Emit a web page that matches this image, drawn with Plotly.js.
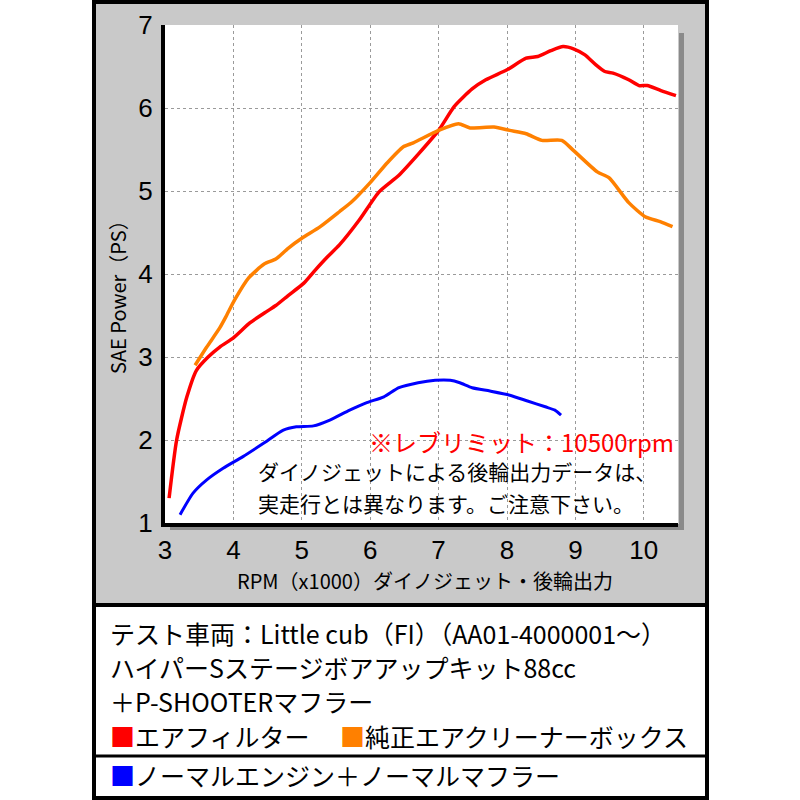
<!DOCTYPE html>
<html>
<head>
<meta charset="utf-8">
<script src="https://cdn.plot.ly/plotly-3.0.1.min.js"></script>
<style>
  html, body { margin: 0; padding: 0; background: #ffffff; }
  #grafico { width: 800px; height: 800px; }
</style>
</head>
<body>
<div id="grafico"></div>
<script>
// Datos: RPM (x1000) y potencia SAE (PS)
const rpmAirFilter = [3.06, 3.17, 3.32, 3.46, 3.63, 3.80, 4.00, 4.24, 4.49, 4.62, 4.80, 5.03, 5.20, 5.38, 5.55,
    5.84, 6.13, 6.42, 6.71, 7.00, 7.23, 7.49, 7.69, 8.00, 8.28, 8.45, 8.64, 8.82, 8.98, 9.14,
    9.30, 9.43, 9.55, 9.78, 9.93, 10.05, 10.25, 10.47];
const psAirFilter = [1.30, 2.00, 2.52, 2.84, 3.00, 3.12, 3.23, 3.41, 3.55, 3.62, 3.74, 3.89, 4.05, 4.21, 4.35,
    4.65, 4.99, 5.19, 5.45, 5.73, 6.02, 6.23, 6.34, 6.46, 6.60, 6.62, 6.69, 6.74, 6.71, 6.64,
    6.52, 6.44, 6.42, 6.34, 6.27, 6.27, 6.21, 6.15];

const rpmStockBox = [3.44, 3.61, 3.80, 3.90, 4.02, 4.22, 4.45, 4.62, 4.80, 5.00, 5.27, 5.55, 5.73, 6.01, 6.25,
    6.48, 6.63, 7.00, 7.29, 7.46, 7.81, 8.04, 8.28, 8.51, 8.80, 8.97, 9.32, 9.49, 9.78, 10.02,
    10.24, 10.42];
const psStockBox = [2.90, 3.12, 3.35, 3.50, 3.69, 3.95, 4.12, 4.18, 4.31, 4.43, 4.57, 4.75, 4.87, 5.11, 5.34,
    5.53, 5.58, 5.73, 5.81, 5.76, 5.77, 5.73, 5.69, 5.61, 5.61, 5.49, 5.23, 5.16, 4.86, 4.69,
    4.63, 4.57];

const rpmNormal = [3.22, 3.41, 3.61, 3.85, 4.14, 4.44, 4.73, 4.92, 5.17, 5.41, 5.70, 5.95, 6.20, 6.42, 6.70,
    6.95, 7.17, 7.31, 7.49, 7.75, 8.04, 8.30, 8.56, 8.70, 8.79];
const psNormal = [1.10, 1.36, 1.52, 1.66, 1.80, 1.96, 2.12, 2.16, 2.17, 2.24, 2.36, 2.45, 2.52, 2.63, 2.69,
    2.72, 2.72, 2.69, 2.63, 2.59, 2.54, 2.47, 2.40, 2.36, 2.30];

const xTicks = [3, 4, 5, 6, 7, 8, 9, 10];
const yTicks = [1, 2, 3, 4, 5, 6, 7];
const yGrid = [2, 3, 4, 5, 6];

// Textos
const xTitle = 'RPM（x1000）ダイノジェット・後輪出力';
const yTitle = 'SAE Power（PS）';
const revLimit = '※レブリミット：10500rpm';
const noteLines = ['ダイノジェットによる後輪出力データは、', '実走行とは異なります。ご注意下さい。'];
const infoLines = ['テスト車両：Little cub（FI）（AA01-4000001～）',
    'ハイパーSステージボアアップキット88cc',
    '＋P-SHOOTERマフラー'];
const legendNames = ['エアフィルター', '純正エアクリーナーボックス', 'ノーマルエンジン＋ノーマルマフラー'];
const colores = ['#ff0000', '#ff8000', '#0000ff'];

// Conversión de píxeles a coordenadas "paper"
const px = v => v / 800;
const py = v => 1 - v / 800;

const fuenteJP = '"Noto Sans CJK JP", sans-serif';
const fuenteNum = 'Liberation Sans, Arial, sans-serif';

const trazas = [
    { x: rpmAirFilter, y: psAirFilter, color: colores[0], w: 3.5 },
    { x: rpmStockBox, y: psStockBox, color: colores[1], w: 3.5 },
    { x: rpmNormal, y: psNormal, color: colores[2], w: 3 }
].map(s => ({
    x: s.x, y: s.y, type: 'scatter', mode: 'lines',
    line: { color: s.color, width: s.w, shape: 'spline', smoothing: 0.6 },
    hoverinfo: 'skip', showlegend: false
}));

// Marco, sombra y fondo del área de gráfico
const shapes = [
    { type: 'rect', xref: 'paper', yref: 'paper', x0: px(94), x1: px(707), y0: py(2), y1: py(605),
      fillcolor: '#c9c9c9', line: { width: 0 }, layer: 'below' },
    { type: 'rect', xref: 'paper', yref: 'paper', x0: px(679), x1: px(684), y0: py(33), y1: py(530),
      fillcolor: '#8a8a8a', line: { width: 0 }, layer: 'below' },
    { type: 'rect', xref: 'paper', yref: 'paper', x0: px(170), x1: px(684), y0: py(524), y1: py(530),
      fillcolor: '#8a8a8a', line: { width: 0 }, layer: 'below' },
    { type: 'rect', xref: 'paper', yref: 'paper', x0: px(165), x1: px(678), y0: py(25), y1: py(523),
      fillcolor: '#ffffff', line: { width: 0 }, layer: 'below' },
    { type: 'rect', xref: 'paper', yref: 'paper', x0: px(94), x1: px(707), y0: py(2), y1: py(798),
      fillcolor: 'rgba(0,0,0,0)', line: { color: '#000000', width: 4 } },
    { type: 'line', xref: 'paper', yref: 'paper', x0: px(94), x1: px(707), y0: py(605), y1: py(605),
      line: { color: '#000000', width: 4 } },
    { type: 'line', xref: 'paper', yref: 'paper', x0: px(94), x1: px(707), y0: py(756), y1: py(756),
      line: { color: '#000000', width: 3 } }
];

function nota(texto, x, y, size, color, extra) {
    return Object.assign({
        text: texto, xref: 'paper', yref: 'paper', x: px(x), y: py(y),
        xanchor: 'left', yanchor: 'middle', showarrow: false,
        font: { family: fuenteJP, size: size, color: color || '#000000' }
    }, extra || {});
}

// Cuadrado de color de la leyenda
const cuadro = c => '<span style="color:' + c + '">■</span>';

const annotations = [
    nota(yTitle, 117, 292, 20, '#000000', { textangle: -90, xanchor: 'center' }),
    nota(xTitle, 425, 580, 20, '#000000', { xanchor: 'center' }),
    nota(revLimit, 367, 441, 24, '#ff0000'),
    nota(noteLines[0], 256, 471, 21),
    nota(noteLines[1], 256, 503, 21),
    nota(infoLines[0], 108, 633, 25),
    nota(infoLines[1], 108, 667, 25),
    nota(infoLines[2], 108, 701, 25),
    nota(cuadro(colores[0]) + legendNames[0], 108, 736, 25),
    nota(cuadro(colores[1]) + legendNames[1], 338, 736, 25),
    nota(cuadro(colores[2]) + legendNames[2], 108, 775, 25)
];

const layout = {
    width: 800, height: 800,
    margin: { l: 0, r: 0, t: 0, b: 0 },
    paper_bgcolor: '#ffffff',
    plot_bgcolor: '#ffffff',
    showlegend: false,
    xaxis: {
        domain: [px(165), px(678)],
        range: [3, 10.5],
        tickvals: xTicks,
        ticks: 'outside', ticklen: 1, tickcolor: 'rgba(0,0,0,0)',
        tickfont: { family: fuenteNum, size: 26, color: '#000000' },
        showgrid: true, gridcolor: '#9a9a9a', gridwidth: 1, griddash: '3px,3px',
        zeroline: false,
        showline: true, linecolor: '#000000', linewidth: 4
    },
    yaxis: {
        domain: [py(523), py(25)],
        range: [1, 7],
        tickvals: yTicks,
        ticks: 'outside', ticklen: 3, tickcolor: 'rgba(0,0,0,0)',
        tickfont: { family: fuenteNum, size: 26, color: '#000000' },
        showgrid: false, zeroline: false,
        showline: true, linecolor: '#000000', linewidth: 4
    },
    yaxis2: {
        overlaying: 'y',
        range: [1, 7],
        tickvals: yGrid,
        showticklabels: false, ticks: '',
        showgrid: true, gridcolor: '#9a9a9a', gridwidth: 1, griddash: '3px,3px',
        zeroline: false, showline: false
    },
    shapes: shapes,
    annotations: annotations
};

// Traza invisible para activar el eje secundario de la cuadrícula
trazas.push({ x: [3], y: [1], yaxis: 'y2', type: 'scatter', mode: 'markers',
    marker: { opacity: 0 }, hoverinfo: 'skip', showlegend: false });

Plotly.newPlot('grafico', trazas, layout, { displayModeBar: false, staticPlot: true });
</script>
</body>
</html>
